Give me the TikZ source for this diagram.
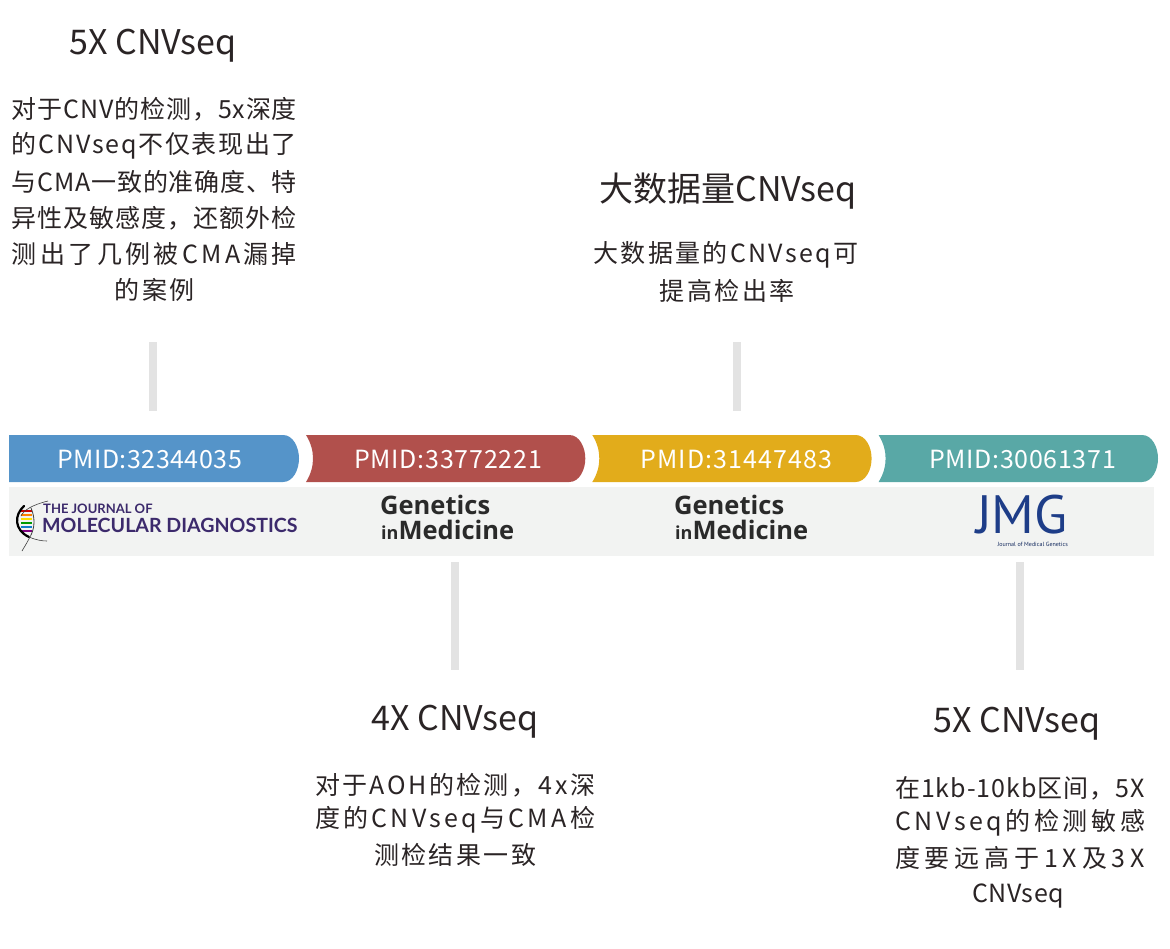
\documentclass[tikz,border=0pt]{standalone}
\usepackage{fontspec}
\setmainfont{Noto Sans CJK SC}
\newfontfamily\latofont{Lato}
\newfontfamily\ptfont{PT Sans}
\newfontfamily\gimfont{Open Sans}
\definecolor{segblue}{HTML}{5594C9}
\definecolor{segred}{HTML}{B1504C}
\definecolor{segyellow}{HTML}{E2AC1B}
\definecolor{segteal}{HTML}{59A8A6}
\definecolor{bandgray}{HTML}{F2F3F2}
\definecolor{linegray}{HTML}{E3E3E3}
\definecolor{txt}{HTML}{2A2425}
\definecolor{jmdpurple}{HTML}{3C2A6C}
\definecolor{gimgray}{HTML}{2A2A2A}
\definecolor{jmgblue}{HTML}{1E3D88}
\makeatletter
\def\sp@aux#1{#1\futurelet\sp@next\sp@check}
\def\sp@check{\ifx\sp@next\sp@end\expandafter\@gobble\else\hfill\expandafter\sp@aux\fi}
\def\sp@end{\sp@end}
\newcommand\spreadline[2]{\makebox[#1][s]{\sp@aux#2\sp@end}}
\makeatother
\tikzset{
  title/.style={text=txt, font=\fontsize{34}{34}\selectfont, inner sep=0pt, anchor=center},
  body/.style={text=txt, font=\fontsize{25}{25}\selectfont, inner sep=0pt, anchor=center},
  pmid/.style={text=white, font=\fontsize{25}{25}\selectfont, inner sep=0pt, anchor=center},
  vline/.style={draw=linegray, line width=8pt},
  gimA/.style={text=gimgray, font=\gimfont\bfseries\fontsize{25.5}{25.5}\selectfont, inner sep=0pt, anchor=base west},
}
\newcommand\segshape[3]{% color, prev tip, tip
  \pgfmathsetmacro\pa{#2+7}\pgfmathsetmacro\pb{#2+12}\pgfmathsetmacro\pc{#2+14}%
  \pgfmathsetmacro\ta{#3-16}\pgfmathsetmacro\tb{#3-6}%
  \fill[#1] (\pa,435) -- (\ta,435) .. controls (\tb,435) and (#3,447) .. (#3,458.5)
     .. controls (#3,470) and (\tb,482) .. (\ta,482) -- (\pa,482)
     .. controls (\pb,474) and (\pc,466) .. (\pc,458.5)
     .. controls (\pc,451) and (\pb,443) .. cycle;}
\begin{document}
\begin{tikzpicture}[x=1pt,y=-1pt]
\useasboundingbox (0,0) rectangle (1170,949);
% timeline band
\fill[segblue] (9,435) -- (283,435) .. controls (293,435) and (299,447) .. (299,458.5)
   .. controls (299,470) and (293,482) .. (283,482) -- (9,482) -- cycle;
\segshape{segred}{299}{585.3}
\segshape{segyellow}{585.3}{871.6}
\segshape{segteal}{871.6}{1158}
\fill[bandgray] (9,487) rectangle (1154,556);
\node[pmid] (p1) at (149.5,459) {\spreadline{185pt}{PMID:32344035}};
\node[pmid] (p2) at (448,459) {\spreadline{188pt}{PMID:33772221}};
\node[pmid] (p3) at (736.5,459) {\spreadline{192pt}{PMID:31447483}};
\node[pmid] (p4) at (1022.5,459) {\spreadline{187pt}{PMID:30061371}};
% connectors
\coordinate (a1) at (153,342); \coordinate (b1) at (153,411);
\coordinate (a2) at (455,562); \coordinate (b2) at (455,670);
\coordinate (a3) at (737,342); \coordinate (b3) at (737,411);
\coordinate (a4) at (1020,562); \coordinate (b4) at (1020,670);
\draw[vline] (a1) -- (b1);
\draw[vline] (a2) -- (b2);
\draw[vline] (a3) -- (b3);
\draw[vline] (a4) -- (b4);
% block 1
\node[title] (t1) at (153,46) {5X CNVseq};
\node[body] (l11) at (154.5,109) {\spreadline{285pt}{对于CNV的检测，5x深度}};
\node[body] (l12) at (154.5,146) {\spreadline{285pt}{的CNVseq不仅表现出了}};
\node[body] (l13) at (154.5,182) {\spreadline{285pt}{与CMA一致的准确度、特}};
\node[body] (l14) at (154.5,218) {\spreadline{285pt}{异性及敏感度，还额外检}};
\node[body] (l15) at (154.5,254) {\spreadline{285pt}{测出了几例被CMA漏掉}};
\node[body] (l16) at (154.5,290) {\spreadline{80pt}{的案例}};
% block 2
\node[title] (t2) at (728,191) {大数据量CNVseq};
\node[body] (l21) at (726,255) {\spreadline{265pt}{大数据量的CNVseq可}};
\node[body] (l22) at (727,291) {\spreadline{135pt}{提高检出率}};
% block 3
\node[title] (t3) at (455,722) {4X CNVseq};
\node[body] (l31) at (455,785) {\spreadline{280pt}{对于AOH的检测，4x深}};
\node[body] (l32) at (455,820) {\spreadline{280pt}{度的CNVseq与CMA检}};
\node[body] (l33) at (455,855) {\spreadline{162pt}{测检结果一致}};
% block 4
\node[title] (t4) at (1017,724) {5X CNVseq};
\node[body] (l41) at (1020,788) {\spreadline{250pt}{在1kb-10kb区间，5X}};
\node[body] (l42) at (1020,823) {\spreadline{250pt}{CNVseq的检测敏感}};
\node[body] (l43) at (1020,858) {\spreadline{250pt}{度要远高于1X及3X}};
\node[body] (l44) at (1018,896) {\spreadline{92pt}{CNVseq}};
% logo 1: Journal of Molecular Diagnostics (helix mark)
\foreach \yy/\cc in {511/red!80!black, 515/orange, 519/yellow!80!orange, 523/green!60!black, 527/cyan!60!blue, 531/violet}
  \draw[\cc, line width=1.6pt] (21,\yy) -- (32,\yy);
\draw[black!75, line width=0.6pt] (48,501) .. controls (32,505) and (24,510) .. (21,516);
\draw[black, line width=2.2pt, line cap=round] (24,506) .. controls (14,515) and (14,530) .. (29,537);
\draw[black!75, line width=0.8pt] (31,508) .. controls (35,517) and (35,527) .. (31,535);
\draw[black!75, line width=0.6pt] (29,537) .. controls (36,540) and (42,541) .. (47,541);
\draw[black!75, line width=0.6pt] (31,535) .. controls (28,541) and (25,546) .. (22,551);
\node[text=jmdpurple, font=\latofont\bfseries\fontsize{13}{13}\selectfont, inner sep=0pt, anchor=base west] (jmd1) at (43,513) {THE JOURNAL OF};
\node[text=jmdpurple, font=\latofont\bfseries\fontsize{19.6}{19.6}\selectfont, inner sep=0pt, anchor=base west] (jmd2) at (42,532) {MOLECULAR DIAGNOSTICS};
% logo 2, 3: Genetics in Medicine
\node[gimA] (g1) at (380,514) {Genetics};
\node[gimA] (g2) at (381,539) {{\fontsize{18}{18}\selectfont in}Medicine};
\node[gimA] (g3) at (674,514) {Genetics};
\node[gimA] (g4) at (675,539) {{\fontsize{18}{18}\selectfont in}Medicine};
% logo 4: JMG
\node[text=jmgblue, font=\ptfont\fontsize{54}{54}\selectfont, inner sep=0pt, text depth=0pt, anchor=base] (jmg) at (1022,533) {JMG};
\node[text=jmgblue!70!black, font=\ptfont\fontsize{6}{6}\selectfont, inner sep=0pt, anchor=base east] (jmgsub) at (1068,546) {Journal of Medical Genetics};
\end{tikzpicture}
\end{document}
